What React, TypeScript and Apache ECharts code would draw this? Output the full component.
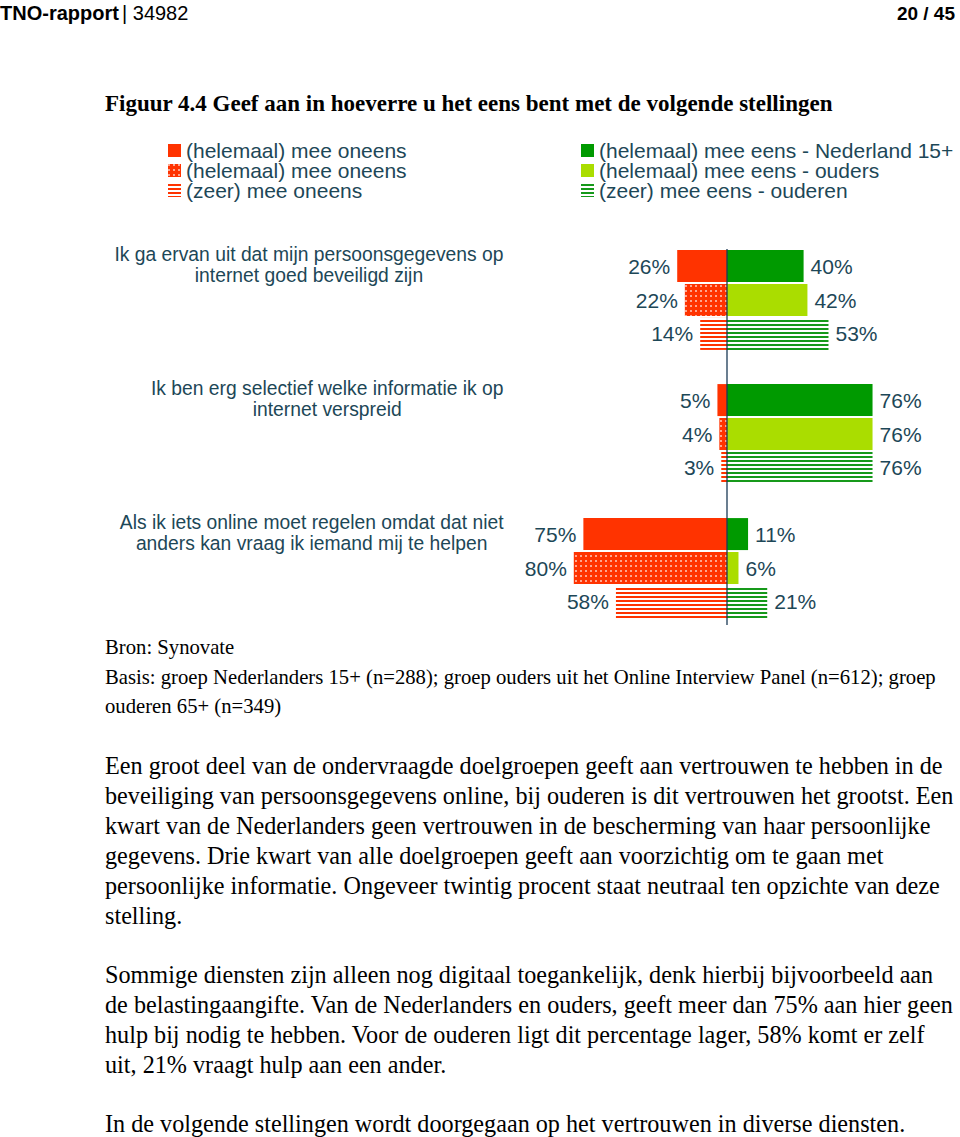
import React, { useEffect, useRef } from 'react';
import * as echarts from 'echarts';

const categories = [
  'Ik ga ervan uit dat mijn persoonsgegevens op\ninternet goed beveiligd zijn',
  'Ik ben erg selectief welke informatie ik op\ninternet verspreid',
  'Als ik iets online moet regelen omdat dat niet\nanders kan vraag ik iemand mij te helpen',
];
const disagreeNL = [26, 5, 75];
const agreeNL = [40, 76, 11];
const disagreeOuders = [22, 4, 80];
const agreeOuders = [42, 76, 6];
const disagreeOuderen = [14, 3, 58];
const agreeOuderen = [53, 76, 21];

const legendLeftNames = ['(helemaal) mee oneens', '(helemaal) mee oneens', '(zeer) mee oneens'];
const legendRightNames = [
  '(helemaal) mee eens - Nederland 15+',
  '(helemaal) mee eens - ouders',
  '(zeer) mee eens - ouderen',
];

const headerLeft = 'TNO-rapport';
const headerNumber = '| 34982';
const headerPage = '20 / 45';
const figureTitle = 'Figuur 4.4 Geef aan in hoeverre u het eens bent met de volgende stellingen';
const sourceLines = [
  'Bron: Synovate',
  'Basis: groep Nederlanders 15+ (n=288); groep ouders uit het Online Interview Panel (n=612); groep',
  'ouderen 65+ (n=349)',
];
const paragraphLines = [
  'Een groot deel van de ondervraagde doelgroepen geeft aan vertrouwen te hebben in de',
  'beveiliging van persoonsgegevens online, bij ouderen is dit vertrouwen het grootst. Een',
  'kwart van de Nederlanders geen vertrouwen in de bescherming van haar persoonlijke',
  'gegevens. Drie kwart van alle doelgroepen geeft aan voorzichtig om te gaan met',
  'persoonlijke informatie. Ongeveer twintig procent staat neutraal ten opzichte van deze',
  'stelling.',
  '',
  'Sommige diensten zijn alleen nog digitaal toegankelijk, denk hierbij bijvoorbeeld aan',
  'de belastingaangifte. Van de Nederlanders en ouders, geeft meer dan 75% aan hier geen',
  'hulp bij nodig te hebben. Voor de ouderen ligt dit percentage lager, 58% komt er zelf',
  'uit, 21% vraagt hulp aan een ander.',
  '',
  'In de volgende stellingen wordt doorgegaan op het vertrouwen in diverse diensten.',
];

const SANS = '"Liberation Sans", Arial, Helvetica, sans-serif';
const SERIF = '"Liberation Serif", "Times New Roman", serif';
const TEXT = '#1d4757';
const RED = '#ff3300';
const GREEN = '#009a00';
const LIME = '#aadd00';
const GREEN_STRIPE = '#16991a';

const dotted = {
  symbol: 'rect',
  symbolSize: 0.75,
  color: '#ffffff',
  dashArrayX: [2, 3],
  dashArrayY: [2, 3],
};
const stripes = (c: string) => ({
  symbol: 'rect',
  symbolSize: 1,
  color: c,
  dashArrayX: [1, 0],
  dashArrayY: [2, 1.6],
});

const legendText: Record<string, string> = {
  d_nl: legendLeftNames[0],
  d_ou: legendLeftNames[1],
  d_od: legendLeftNames[2],
  a_nl: legendRightNames[0],
  a_ou: legendRightNames[1],
  a_od: legendRightNames[2],
};

function barSeries(name: string, stack: string, values: number[], negative: boolean, itemStyle: any) {
  return {
    type: 'bar',
    name,
    stack,
    barWidth: 32,
    barGap: '6%',
    data: values.map((v) => (negative ? -v : v)),
    itemStyle,
    label: {
      show: true,
      position: negative ? 'left' : 'right',
      distance: 7,
      fontFamily: SANS,
      fontSize: 21,
      color: TEXT,
      formatter: (p: any) => Math.abs(p.value) + '%',
    },
  };
}

export default function App() {
  const ref = useRef<HTMLDivElement>(null);
  useEffect(() => {
    document.body.style.margin = '0';
    const chart = echarts.init(ref.current!, null, { renderer: 'svg' });
    let y = 765;
    const para: any[] = [];
    paragraphLines.forEach((t, i) => {
      if (t) {
        para.push({
          type: 'text', id: 'p' + i, x: 105, y,
          style: { text: t, font: `24.2px ${SERIF}`, fill: '#000', verticalAlign: 'middle' },
        });
      }
      y += t ? 30 : 29;
    });
    const legendBase = {
      orient: 'vertical', top: 140, padding: 0, itemGap: -1,
      itemWidth: 13, itemHeight: 13, icon: 'rect',
      formatter: (n: string) => legendText[n],
      textStyle: { fontFamily: SANS, fontSize: 21, lineHeight: 19, color: TEXT },
    };
    const option: any = {
      animation: false,
      grid: { left: 535.5, right: 41.5, top: 233, bottom: 502 },
      xAxis: { type: 'value', min: -100, max: 100, show: false },
      yAxis: {
        type: 'category',
        inverse: true,
        data: categories,
        axisLine: { show: false, onZero: false },
        axisTick: { show: false },
        axisLabel: {
          interval: 0,
          margin: 32,
          align: 'right',
          verticalAlign: 'bottom',
          padding: [0, 0, 14, 0],
          formatter: (v: string) => v.split('\n').map((l) => `{c|${l}}`).join('\n'),
          rich: { c: { align: 'center', fontSize: 19.3, lineHeight: 21, fontFamily: SANS, color: TEXT } },
        },
      },
      legend: [
        { ...legendBase, data: ['d_nl', 'd_ou', 'd_od'], left: 168 },
        { ...legendBase, data: ['a_nl', 'a_ou', 'a_od'], left: 581 },
      ],
      series: [
        barSeries('d_nl', 'nl', disagreeNL, true, { color: RED }),
        barSeries('a_nl', 'nl', agreeNL, false, { color: GREEN }),
        barSeries('d_ou', 'ou', disagreeOuders, true, { color: RED, decal: dotted }),
        barSeries('a_ou', 'ou', agreeOuders, false, { color: LIME }),
        barSeries('d_od', 'od', disagreeOuderen, true, { color: '#ffffff', decal: stripes(RED) }),
        barSeries('a_od', 'od', agreeOuderen, false, { color: '#ffffff', decal: stripes(GREEN_STRIPE) }),
      ],
      graphic: {
        elements: [
          { type: 'text', id: 'h1', x: 0, y: 13, style: { text: headerLeft, font: `bold 20px ${SANS}`, fill: '#000', verticalAlign: 'middle' } },
          { type: 'text', id: 'h2', x: 122, y: 13, style: { text: headerNumber, font: `20px ${SANS}`, fill: '#000', verticalAlign: 'middle' } },
          { type: 'text', id: 'h3', x: 955, y: 13, style: { text: headerPage, font: `bold 19px ${SANS}`, fill: '#000', align: 'right', verticalAlign: 'middle' } },
          { type: 'text', id: 't1', x: 105, y: 103, style: { text: figureTitle, font: `bold 23px ${SERIF}`, fill: '#000', verticalAlign: 'middle' } },
          ...sourceLines.map((t, i) => ({
            type: 'text', id: 's' + i, x: 105, y: 647 + i * 29.5,
            style: { text: t, font: `20.7px ${SERIF}`, fill: '#000', verticalAlign: 'middle' },
          })),
          ...para,
        ],
      },
    };
    chart.setOption(option);
    const x0 = chart.convertToPixel({ xAxisIndex: 0 }, 0) as number;
    const yFirst = chart.convertToPixel({ yAxisIndex: 0 }, 0) as number;
    const yLast = chart.convertToPixel({ yAxisIndex: 0 }, categories.length - 1) as number;
    chart.setOption({
      graphic: {
        elements: [
          {
            type: 'line', id: 'zeroLine', z: 10,
            shape: { x1: x0, y1: yFirst - 51, x2: x0, y2: yLast + 57 },
            style: { stroke: '#1b3a55', lineWidth: 1.3 },
          },
        ],
      },
    });
    return () => chart.dispose();
  }, []);
  return <div ref={ref} style={{ width: 960, height: 1137 }} />;
}
